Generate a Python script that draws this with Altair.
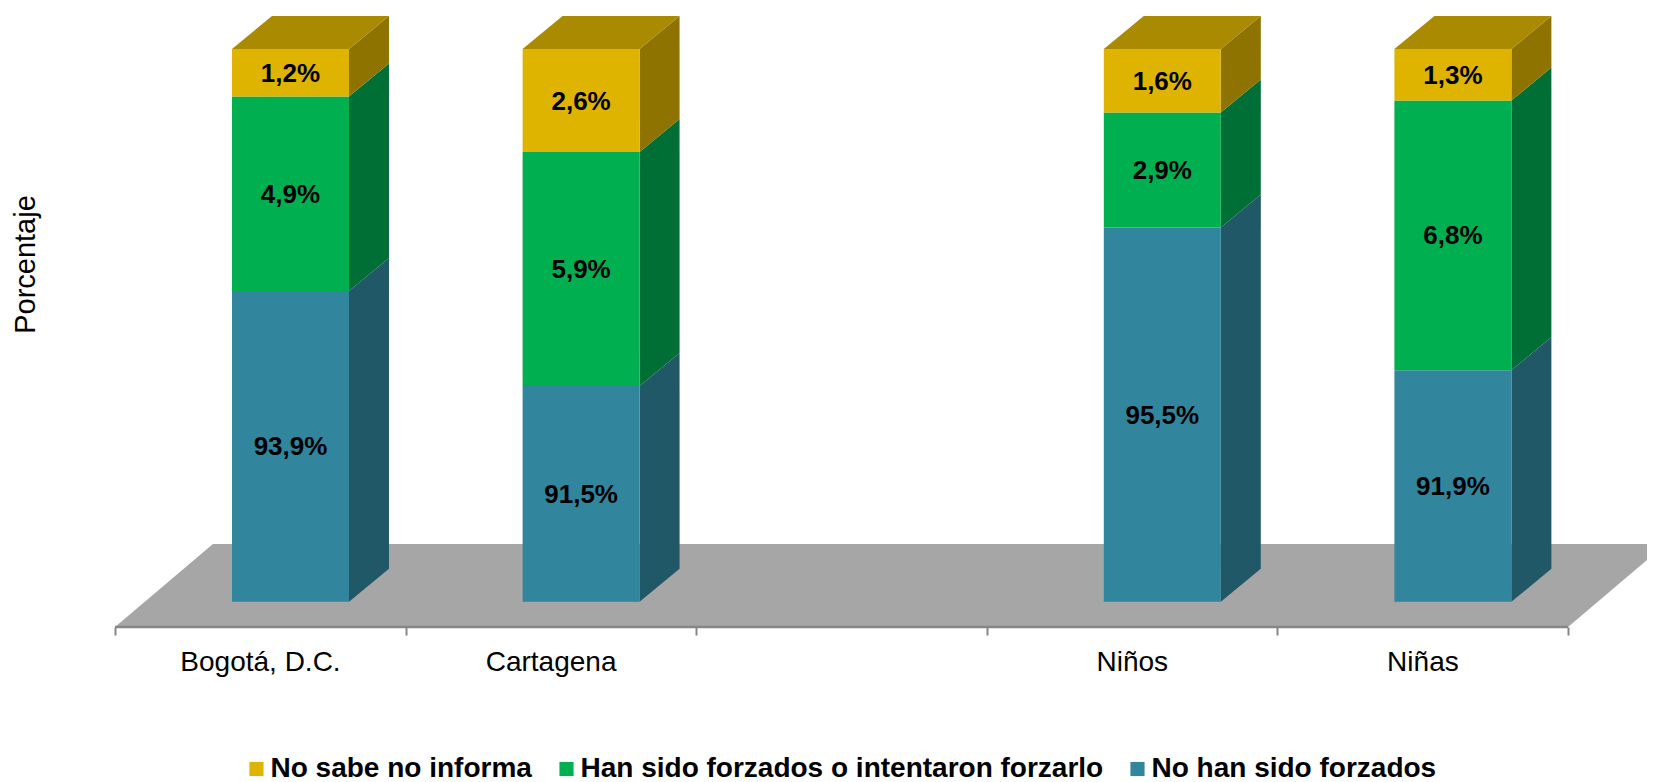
import altair as alt
import pandas as pd

# --- chart values ---
categories = ["Bogotá, D.C.", "Cartagena", "", "Niños", "Niñas", ""]
bar_slots = [0, 1, 3, 4]
series = ["No sabe no informa", "Han sido forzados o intentaron forzarlo", "No han sido forzados"]
no_forzados = [93.9, 91.5, 95.5, 91.9]
forzados = [4.9, 5.9, 2.9, 6.8]
no_sabe = [1.2, 2.6, 1.6, 1.3]
front_colors = ["#DEB400", "#00B050", "#31859C"]
side_colors = ["#8F7300", "#006F35", "#205867"]
top_color = "#AA8A00"
floor_color = "#A6A6A6"
axis_color = "#868686"
FONT = "Liberation Sans"

# --- geometry of the pseudo-3D drawing, in data units ---
X_MIN, X_MAX = -0.3682, 5.2718
Y_MIN, Y_MAX = 85.424, 101.034
BASE = 86.06
BAR_START, BAR_WIDTH = 0.4026, 0.4026
DX, DY = 0.1376, 0.832
FLOOR_DX, FLOOR_DY = 0.337, 2.093
N_SLOTS = 5

front, side, top, labels = [], [], [], []
for i, slot in enumerate(bar_slots):
    x0 = slot + BAR_START
    x1 = x0 + BAR_WIDTH
    low = BASE
    cumulative = 0
    for name, value, side_c in zip(
        [series[2], series[1], series[0]],
        [no_forzados[i], forzados[i], no_sabe[i]],
        [side_colors[2], side_colors[1], side_colors[0]],
    ):
        cumulative += value
        high = cumulative
        front.append(dict(x=x0, x2=x1, y=low, y2=high, serie=name))
        key = f"{slot}-{name}"
        side.append(dict(key=key, x=x1, y=low, y2=high, c=side_c))
        side.append(dict(key=key, x=x1 + DX, y=low + DY, y2=high + DY, c=side_c))
        labels.append(dict(x=(x0 + x1) / 2, y=(low + high) / 2,
                           t=f"{value:.1f}%".replace(".", ",")))
        low = high
    t = low
    key = str(slot)
    top += [dict(key=key, x=x0, y=t, y2=t),
            dict(key=key, x=x0 + DX, y=t, y2=t + DY),
            dict(key=key, x=x1, y=t, y2=t + DY),
            dict(key=key, x=x1 + DX, y=t + DY, y2=t + DY)]

floor = [dict(x=0, y=Y_MIN, y2=Y_MIN),
         dict(x=FLOOR_DX, y=Y_MIN, y2=Y_MIN + FLOOR_DY),
         dict(x=N_SLOTS, y=Y_MIN, y2=Y_MIN + FLOOR_DY),
         dict(x=N_SLOTS + FLOOR_DX, y=Y_MIN + FLOOR_DY, y2=Y_MIN + FLOOR_DY)]

label_expr = "[" + ",".join(repr(c) for c in categories) + "][datum.value]"

x_scale = alt.Scale(domain=[X_MIN, X_MAX], nice=False, zero=False)
y_scale = alt.Scale(domain=[Y_MIN, Y_MAX], nice=False, zero=False)

X = alt.X("x:Q", scale=x_scale, axis=alt.Axis(
    values=list(range(N_SLOTS + 1)), title=None, domain=False, grid=False,
    tickSize=8, tickWidth=2, tickColor=axis_color,
    labelExpr=label_expr, labelOffset=145, labelFont=FONT, labelFontSize=28,
    labelColor="#000000", labelPadding=13, labelOverlap=False, labelBound=False,
    labelFlush=False, labelAlign="center"))
Y = alt.Y("y:Q", scale=y_scale, axis=alt.Axis(
    title="Porcentaje", domain=False, ticks=False, labels=False, grid=False,
    titleFont=FONT, titleFontSize=29, titleFontWeight="normal", titleColor="#000000",
    titleX=17, titleY=256, titleAlign="center", titleBaseline="middle", titleAngle=270))

floor_layer = alt.Chart(pd.DataFrame(floor)).mark_area(
    color=floor_color, clip=True, interpolate="linear"
).encode(x=X, y=Y, y2="y2:Q")

axis_line = alt.Chart(pd.DataFrame([dict(x=0, x2=N_SLOTS, y=Y_MIN)])).mark_rule(
    color=axis_color, strokeWidth=2.5
).encode(x=X, x2="x2:Q", y=Y)

side_layer = alt.Chart(pd.DataFrame(side)).mark_area(interpolate="linear").encode(
    x=X, y=Y, y2="y2:Q", detail="key:N",
    fill=alt.Fill("c:N", scale=None))

top_layer = alt.Chart(pd.DataFrame(top)).mark_area(
    color=top_color, interpolate="linear"
).encode(x=X, y=Y, y2="y2:Q", detail="key:N")

front_layer = alt.Chart(pd.DataFrame(front)).mark_rect().encode(
    x=X, x2="x2:Q", y=Y, y2="y2:Q",
    color=alt.Color("serie:N", scale=alt.Scale(domain=series, range=front_colors),
        legend=alt.Legend(
            title=None, orient="none", legendX=234.5, legendY=747, direction="horizontal",
            columns=3, symbolType="square", symbolSize=200, symbolStrokeWidth=0,
            symbolOpacity=1, labelFont=FONT, labelFontSize=28, labelFontWeight="bold",
            labelColor="#000000", labelLimit=900, labelOffset=0, columnPadding=20)))

text_layer = alt.Chart(pd.DataFrame(labels)).mark_text(
    font=FONT, fontSize=26, fontWeight="bold", color="#000000", baseline="middle", align="center", dy=1
).encode(x=X, y=Y, text="t:N")

chart = alt.layer(floor_layer, axis_line, side_layer, top_layer, front_layer, text_layer).properties(
    width=1639, height=619,
    padding={"left": 0, "top": 0, "right": 0, "bottom": 155},
    autosize=alt.AutoSizeParams(type="none"),
).configure_view(stroke=None)

chart.save("out.html", embed_options={"renderer": "svg", "actions": False})
